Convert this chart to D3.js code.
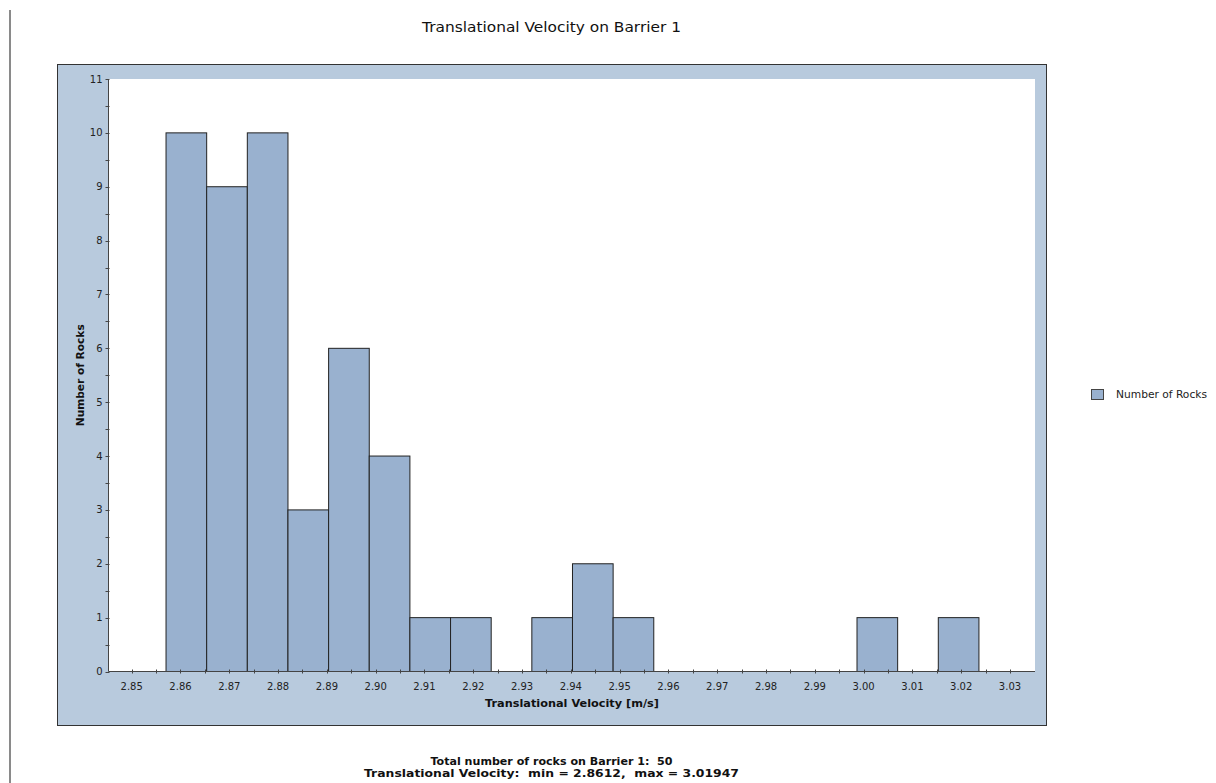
<!DOCTYPE html>
<html><head><meta charset="utf-8">
<script src="https://cdn.jsdelivr.net/npm/d3@7/dist/d3.min.js"></script>
<style>body{margin:0;background:#fff}svg{display:block}text{font-family:"DejaVu Sans",Verdana,sans-serif;white-space:pre}</style>
</head><body>
<script>
const title = "Translational Velocity on Barrier 1";
const xLabel = "Translational Velocity [m/s]";
const yLabel = "Number of Rocks";
const seriesName = "Number of Rocks";
const footer = ["Total number of rocks on Barrier 1:  50", "Translational Velocity:  min = 2.8612,  max = 3.01947"];
const vMin = 2.8612, vMax = 3.01947;
const counts = [10, 9, 10, 3, 6, 4, 1, 1, 0, 1, 2, 1, 0, 0, 0, 0, 0, 1, 0, 1];
const xTicks = [2.85,2.86,2.87,2.88,2.89,2.90,2.91,2.92,2.93,2.94,2.95,2.96,2.97,2.98,2.99,3.00,3.01,3.02,3.03];
const yTicks = [0,1,2,3,4,5,6,7,8,9,10,11];

const W = 1216, H = 783;
const svg = d3.select("body").append("svg").attr("width", W).attr("height", H);

// left gray rule
svg.append("rect").attr("x", 9).attr("y", 10).attr("width", 2).attr("height", H - 10).attr("fill", "#8a8a8a");

// outer panel
svg.append("rect").attr("x", 57.5).attr("y", 64.5).attr("width", 989).attr("height", 661)
  .attr("fill", "#b8cadd").attr("stroke", "#333").attr("stroke-width", 1);

const pl = 108.5, pr = 1035, pt = 79, pb = 671.5;
svg.append("rect").attr("x", pl).attr("y", pt).attr("width", pr - pl).attr("height", pb - pt).attr("fill", "#fff");

const step = (vMax - vMin) / (counts.length - 1);
const data = counts.map((c, i) => ({x: vMin + i * step, c}));

const x = d3.scaleLinear().domain([2.845245, 3.035124]).range([pl, pr]);
const y = d3.scaleLinear().domain([0, 11]).range([pb, pt]);

// bars
svg.append("g").selectAll("rect").data(data.filter(d => d.c > 0)).join("rect")
  .attr("x", d => x(d.x - step / 2))
  .attr("width", d => x(d.x + step / 2) - x(d.x - step / 2))
  .attr("y", d => y(d.c))
  .attr("height", d => y(0) - y(d.c))
  .attr("fill", "#99b1cf").attr("stroke", "#222").attr("stroke-width", 1);

// x axis
const xMinor = d3.range(0, 38).map(i => 2.845 + i * 0.005).filter(v => v >= x.domain()[0] && v <= x.domain()[1]);
const gx = svg.append("g");
gx.append("line").attr("x1", pl).attr("x2", pr).attr("y1", pb).attr("y2", pb).attr("stroke", "#444");
gx.selectAll("line.t").data(xMinor).join("line").attr("class", "t")
  .attr("x1", d => Math.round(x(d)) + 0.5).attr("x2", d => Math.round(x(d)) + 0.5)
  .attr("y1", pb - 2).attr("y2", pb + 2).attr("stroke", "#444");
gx.selectAll("text").data(xTicks).join("text")
  .attr("x", d => x(d)).attr("y", pb + 18).attr("text-anchor", "middle")
  .attr("font-size", 10).attr("fill", "#222").text(d => d3.format(".2f")(d));

// y axis
const yMinor = d3.range(0, 23).map(i => i * 0.5);
const gy = svg.append("g");
gy.append("line").attr("x1", pl).attr("x2", pl).attr("y1", pt).attr("y2", pb).attr("stroke", "#444");
gy.selectAll("line.t").data(yMinor).join("line").attr("class", "t")
  .attr("x1", pl - 3).attr("x2", pl + 1)
  .attr("y1", d => Math.round(y(d)) + 0.5).attr("y2", d => Math.round(y(d)) + 0.5).attr("stroke", "#444");
gy.selectAll("text").data(yTicks).join("text")
  .attr("x", pl - 6).attr("y", d => y(d) + 3.5).attr("text-anchor", "end")
  .attr("font-size", 10).attr("fill", "#222").text(d => d);

// axis labels
svg.append("text").attr("x", 572).attr("y", 707).attr("text-anchor", "middle")
  .attr("font-size", 11).attr("font-weight", "bold").attr("fill", "#111")
  .attr("textLength", 174).attr("lengthAdjust", "spacingAndGlyphs").text(xLabel);
svg.append("text").attr("transform", `translate(84,${(pt + pb) / 2}) rotate(-90)`).attr("text-anchor", "middle")
  .attr("font-size", 11).attr("font-weight", "bold").attr("fill", "#111")
  .attr("textLength", 102).attr("lengthAdjust", "spacingAndGlyphs").text(yLabel);

// title
svg.append("text").attr("x", 551.5).attr("y", 32).attr("text-anchor", "middle")
  .attr("font-size", 14).attr("fill", "#111")
  .attr("textLength", 259).attr("lengthAdjust", "spacingAndGlyphs").text(title);

// legend
svg.append("rect").attr("x", 1091.5).attr("y", 389.5).attr("width", 12).attr("height", 10)
  .attr("fill", "#99b1cf").attr("stroke", "#444");
svg.append("text").attr("x", 1116).attr("y", 398).attr("font-size", 10.5).attr("fill", "#222")
  .attr("textLength", 91).attr("lengthAdjust", "spacingAndGlyphs").text(seriesName);

// footer
const footerLen = [242, 375];
svg.selectAll("text.f").data(footer).join("text").attr("class", "f")
  .attr("x", 551.5).attr("y", (d, i) => 765 + i * 12).attr("text-anchor", "middle")
  .attr("font-size", 11).attr("font-weight", "bold").attr("fill", "#111")
  .attr("textLength", (d, i) => footerLen[i]).attr("lengthAdjust", "spacingAndGlyphs").text(d => d);
</script>
</body></html>
